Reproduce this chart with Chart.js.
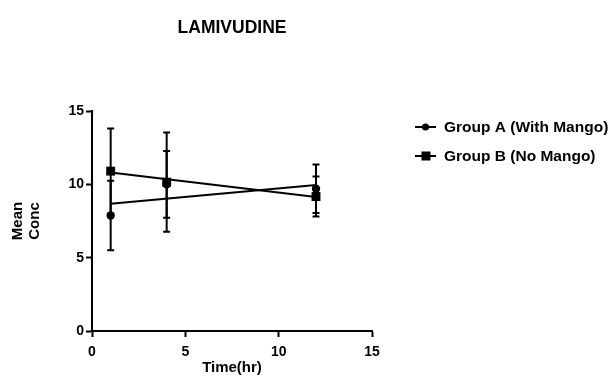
<!DOCTYPE html>
<html>
<head>
<meta charset="utf-8">
<script src="https://cdn.jsdelivr.net/npm/chart.js@4.4.1/dist/chart.umd.min.js"></script>
<style>
  html, body { margin: 0; padding: 0; background: #fff; }
  #wrap { width: 615px; height: 383px; position: relative; }
</style>
</head>
<body>
<div id="wrap"><canvas id="c" width="615" height="383"></canvas></div>
<script>
// ---- data ----
const chartTitle = 'LAMIVUDINE';
const xTitle = 'Time(hr)';
const yTitle = ['Mean', 'Conc'];
const times = [1, 4, 12];
const groupAName = 'Group A (With Mango)';
const groupAMean = [7.87, 10.0, 9.7];
const groupAErr = [2.37, 2.28, 1.65];
const groupBName = 'Group B (No Mango)';
const groupBMean = [10.9, 10.15, 9.17];
const groupBErr = [2.9, 3.38, 1.37];
const fitTimes = [1, 12];
const groupAFit = [8.67, 9.96];
const groupBFit = [10.8, 9.13];
const xTicks = [0, 5, 10, 15];
const yTicks = [0, 5, 10, 15];

const FONT = '"Liberation Sans", Arial, Helvetica, sans-serif';
const toPts = (xs, ys) => xs.map((x, i) => ({ x: x, y: ys[i] }));

const errorBars = {
  id: 'errorBars',
  beforeDatasetsDraw(chart) {
    const { ctx, scales: { x, y } } = chart;
    ctx.save();
    ctx.strokeStyle = '#000';
    ctx.lineWidth = 2;
    chart.data.datasets.forEach(ds => {
      if (!ds.errors) return;
      ds.data.forEach((p, i) => {
        const px = x.getPixelForValue(p.x);
        const top = y.getPixelForValue(p.y + ds.errors[i]);
        const bot = y.getPixelForValue(p.y - ds.errors[i]);
        ctx.beginPath();
        ctx.moveTo(px, top); ctx.lineTo(px, bot);
        ctx.moveTo(px - 3.5, top); ctx.lineTo(px + 3.5, top);
        ctx.moveTo(px - 3.5, bot); ctx.lineTo(px + 3.5, bot);
        ctx.stroke();
      });
    });
    ctx.restore();
  }
};

const customLegend = {
  id: 'customLegend',
  afterDraw(chart) {
    const { ctx } = chart;
    const items = [
      { label: groupAName, style: 'circle', y: 127 },
      { label: groupBName, style: 'rect', y: 156 }
    ];
    ctx.save();
    items.forEach(it => {
      ctx.strokeStyle = '#000';
      ctx.fillStyle = '#000';
      ctx.lineWidth = 2;
      ctx.beginPath();
      ctx.moveTo(415, it.y); ctx.lineTo(436, it.y);
      ctx.stroke();
      if (it.style === 'circle') {
        ctx.beginPath(); ctx.arc(425.5, it.y, 3.6, 0, Math.PI * 2); ctx.fill();
      } else {
        ctx.fillRect(421.5, it.y - 4.5, 9, 9);
      }
      ctx.font = 'bold 15.5px ' + FONT;
      ctx.textBaseline = 'middle';
      ctx.textAlign = 'left';
      ctx.fillText(it.label, 444, it.y + 1);
    });
    ctx.restore();
  }
};

const axisCommon = {
  type: 'linear',
  min: 0,
  max: 15,
  grid: { drawOnChartArea: false, drawTicks: true, tickLength: 6, tickWidth: 2, tickColor: '#000' },
  border: { display: true, width: 2, color: '#000' },
};

new Chart(document.getElementById('c'), {
  type: 'scatter',
  data: {
    datasets: [
      { label: groupAName + ' fit', type: 'line', data: toPts(fitTimes, groupAFit), borderColor: '#000', borderWidth: 2, pointRadius: 0, fill: false, showLine: true },
      { label: groupBName + ' fit', type: 'line', data: toPts(fitTimes, groupBFit), borderColor: '#000', borderWidth: 2, pointRadius: 0, fill: false, showLine: true },
      { label: groupAName, data: toPts(times, groupAMean), errors: groupAErr, pointStyle: 'circle', pointRadius: 4.2, backgroundColor: '#000', borderColor: '#000', borderWidth: 0 },
      { label: groupBName, data: toPts(times, groupBMean), errors: groupBErr, pointStyle: 'rect', pointRadius: 6.3, backgroundColor: '#000', borderColor: '#000', borderWidth: 0 }
    ]
  },
  options: {
    responsive: false,
    animation: false,
    clip: false,
    layout: { padding: { left: 0, right: 243, top: 0, bottom: 0 } },
    plugins: {
      legend: { display: false },
      tooltip: { enabled: false },
      title: {
        display: true,
        text: chartTitle,
        fullSize: false,
        color: '#000',
        font: { family: FONT, size: 17.5, weight: 'bold', lineHeight: 1.2 },
        padding: { top: 18, bottom: 72 }
      }
    },
    scales: {
      x: Object.assign({}, axisCommon, {
        position: 'bottom',
        afterBuildTicks: s => { s.ticks = xTicks.map(v => ({ value: v })); },
        afterFit: s => { s.height = 52; },
        ticks: { color: '#000', padding: 7, font: { family: FONT, size: 14, weight: 'bold' }, maxRotation: 0 },
        title: { display: true, text: xTitle, color: '#000', font: { family: FONT, size: 15, weight: 'bold', lineHeight: 1.2 }, padding: { top: 0, bottom: 6 } }
      }),
      y: Object.assign({}, axisCommon, {
        position: 'left',
        afterBuildTicks: s => { s.ticks = yTicks.map(v => ({ value: v })); },
        afterFit: s => { s.width = 92; },
        ticks: { color: '#000', padding: 2, font: { family: FONT, size: 14, weight: 'bold' } },
        title: { display: true, text: yTitle, color: '#000', font: { family: FONT, size: 15, weight: 'bold', lineHeight: 1.1 }, padding: { top: 10, bottom: 0 } }
      })
    }
  },
  plugins: [errorBars, customLegend]
});
</script>
</body>
</html>
